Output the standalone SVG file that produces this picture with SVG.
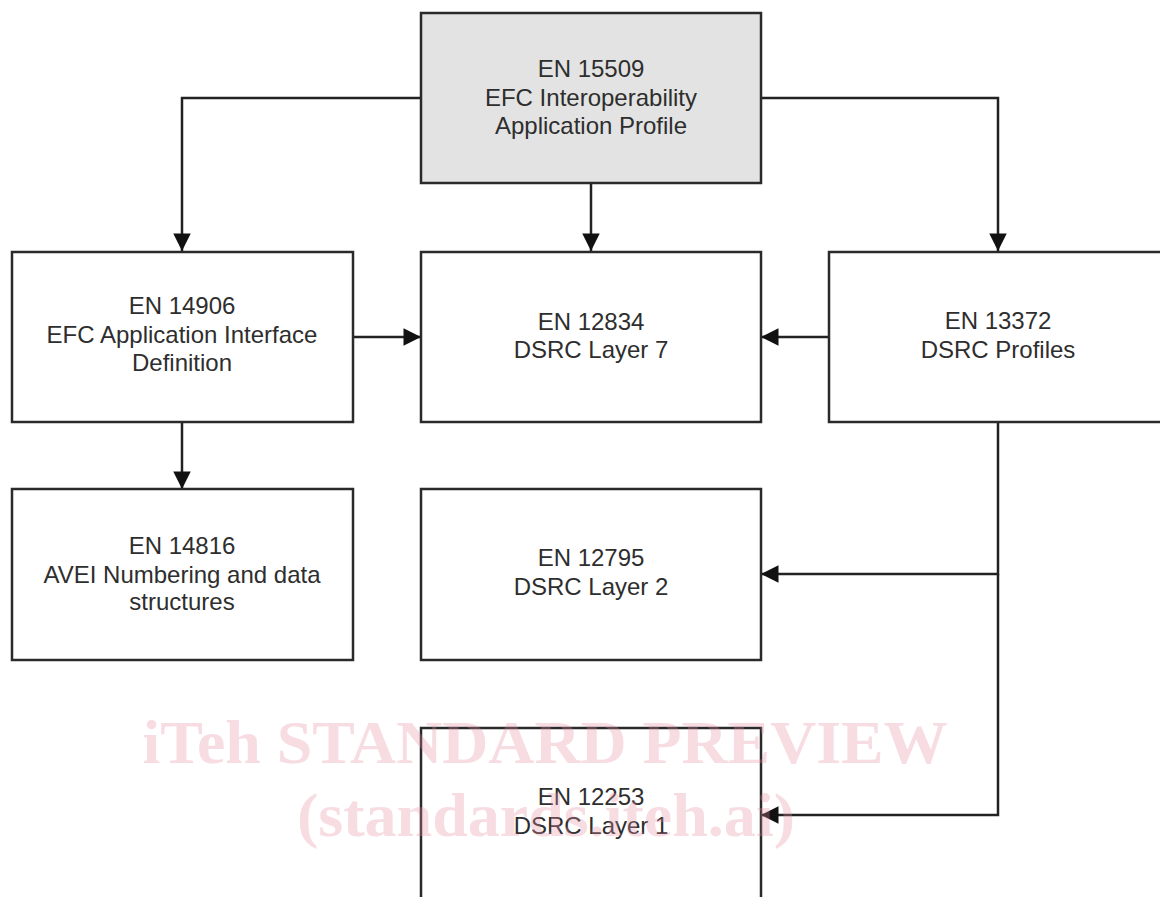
<svg xmlns="http://www.w3.org/2000/svg" width="1160" height="897" viewBox="0 0 1160 897">
<style>
.box{fill:#ffffff;stroke:#2a2a2a;stroke-width:2.5}
.grey{fill:#e3e3e3}
.lbl{font-family:"Liberation Sans",Arial,sans-serif;font-size:24px;fill:#2e2e2e;text-anchor:middle}
.con{fill:none;stroke:#222;stroke-width:2.5}
.wm{font-family:"Liberation Serif","Times New Roman",serif;font-weight:bold;fill:#e58ea3;opacity:0.3;text-anchor:middle}
</style>
<defs>
<marker id="arr" viewBox="0 0 10 10" refX="10" refY="5" markerWidth="7.2" markerHeight="7" markerUnits="strokeWidth" orient="auto">
<path d="M0,0 L10,5 L0,10 z" fill="#111"/>
</marker>
</defs>
<rect width="1160" height="897" fill="#ffffff"/>
<g id="connectors">
<path class="con" d="M421,98 H182 V251" marker-end="url(#arr)"/>
<path class="con" d="M761,98 H998 V251" marker-end="url(#arr)"/>
<path class="con" d="M591,183 V251" marker-end="url(#arr)"/>
<path class="con" d="M353,337 H421" marker-end="url(#arr)"/>
<path class="con" d="M829,337 H761" marker-end="url(#arr)"/>
<path class="con" d="M182,422 V489" marker-end="url(#arr)"/>
<path class="con" d="M998,422 V574 H761" marker-end="url(#arr)"/>
<path class="con" d="M998,574 V815 H761" marker-end="url(#arr)"/>
</g>
<g id="en15509">
<rect class="box grey" x="421" y="13" width="340" height="170"/>
<text class="lbl" x="591" y="77">EN 15509</text>
<text class="lbl" x="591" y="106">EFC Interoperability</text>
<text class="lbl" x="591" y="134">Application Profile</text>
</g>
<g id="en14906">
<rect class="box" x="12" y="252" width="341" height="170"/>
<text class="lbl" x="182" y="314">EN 14906</text>
<text class="lbl" x="182" y="343">EFC Application Interface</text>
<text class="lbl" x="182" y="371">Definition</text>
</g>
<g id="en12834">
<rect class="box" x="421" y="252" width="340" height="170"/>
<text class="lbl" x="591" y="330">EN 12834</text>
<text class="lbl" x="591" y="358">DSRC Layer 7</text>
</g>
<g id="en13372">
<rect class="box" x="829" y="252" width="346" height="170"/>
<text class="lbl" x="998" y="329">EN 13372</text>
<text class="lbl" x="998" y="358">DSRC Profiles</text>
</g>
<g id="en14816">
<rect class="box" x="12" y="489" width="341" height="171"/>
<text class="lbl" x="182" y="554">EN 14816</text>
<text class="lbl" x="182" y="583">AVEI Numbering and data</text>
<text class="lbl" x="182" y="610">structures</text>
</g>
<g id="en12795">
<rect class="box" x="421" y="489" width="340" height="171"/>
<text class="lbl" x="591" y="566">EN 12795</text>
<text class="lbl" x="591" y="595">DSRC Layer 2</text>
</g>
<g id="en12253">
<rect class="box" x="421" y="728" width="340" height="190"/>
<text class="lbl" x="591" y="805">EN 12253</text>
<text class="lbl" x="591" y="834">DSRC Layer 1</text>
</g>
<g id="watermark">
<text class="wm" x="545" y="763" font-size="62" textLength="805" lengthAdjust="spacingAndGlyphs">iTeh STANDARD PREVIEW</text>
<text class="wm" x="546" y="836" font-size="62" textLength="498" lengthAdjust="spacingAndGlyphs">(standards.iteh.ai)</text>
</g>
</svg>
